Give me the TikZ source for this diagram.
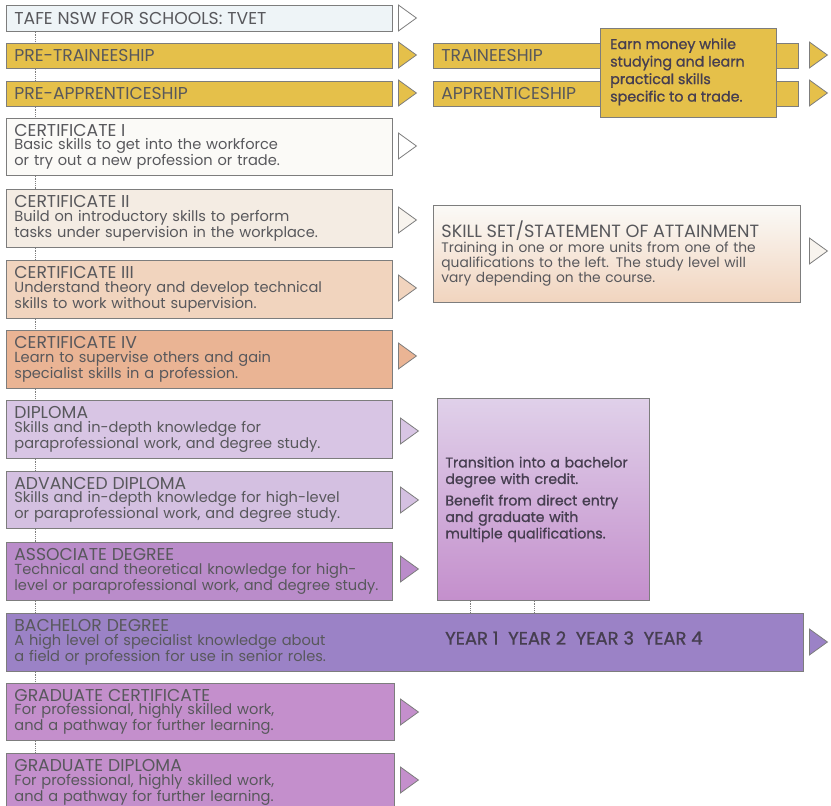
\documentclass[tikz,border=0pt]{standalone}
\usepackage{fontspec}
\setmainfont{Poppins}
\newfontfamily\medfont[FakeBold=1]{Poppins}
\usepackage{tikz}
\usetikzlibrary{positioning,shapes.geometric}

\definecolor{linegray}{RGB}{125,125,125}
\definecolor{txtgray}{RGB}{88,88,92}
\definecolor{darktxt}{RGB}{70,62,80}
\definecolor{tvetfill}{RGB}{238,244,247}
\definecolor{yel}{RGB}{229,192,74}
\definecolor{certone}{RGB}{251,250,247}
\definecolor{certtwo}{RGB}{244,236,227}
\definecolor{certthree}{RGB}{241,212,190}
\definecolor{certfour}{RGB}{234,180,148}
\definecolor{dipfill}{RGB}{216,197,228}
\definecolor{advfill}{RGB}{212,192,225}
\definecolor{assocfill}{RGB}{186,140,202}
\definecolor{bachfill}{RGB}{155,130,198}
\definecolor{gradfill}{RGB}{196,143,204}

\newcommand\titlefont{\fontsize{17.2}{13}\selectfont}

\begin{document}
\lineskiplimit=-100pt
\begin{tikzpicture}[
  x=1pt,y=-1pt,
  lvl/.style={draw=linegray,line width=0.8pt,anchor=north west,inner xsep=8pt,inner ysep=1pt,
    text width=370pt,align=left,font=\fontsize{14.6}{13.7}\selectfont,text=txtgray},
  sidebox/.style={draw=linegray,line width=0.8pt,anchor=north west,inner xsep=8pt,inner ysep=1pt,
    align=left,font=\fontsize{13.8}{12.8}\selectfont,text=txtgray},
  tip/.style={isosceles triangle,isosceles triangle stretches,draw=linegray,line width=0.8pt,
    minimum width=26pt,minimum height=18pt,inner sep=0pt,anchor=west},
  link/.style={draw=linegray,densely dotted,line width=0.8pt}]
  \clip (0,0) rectangle (831,806);
  \fill[white] (0,0) rectangle (831,806);
  % left column
  \node[lvl,fill=tvetfill,minimum height=26pt] (tvet) at (6,5) {\titlefont TAFE NSW FOR SCHOOLS: TVET};
  \node[lvl,fill=yel,minimum height=25pt] (pretr) at (6,43) {\titlefont PRE-TRAINEESHIP};
  \node[lvl,fill=yel,minimum height=25pt] (preap) at (6,81) {\titlefont PRE-APPRENTICESHIP};
  \node[lvl,fill=certone,minimum height=57pt] (certi) at (6,118) {{\titlefont CERTIFICATE I}\\Basic skills to get into the workforce\\or try out a new profession or trade.};
  \node[lvl,fill=certtwo,minimum height=58pt] (certii) at (6,189) {{\titlefont CERTIFICATE II}\\Build on introductory skills to perform\\tasks under supervision in the workplace.};
  \node[lvl,fill=certthree,minimum height=58pt] (certiii) at (6,260) {{\titlefont CERTIFICATE III}\\Understand theory and develop technical\\skills to work without supervision.};
  \node[lvl,fill=certfour,minimum height=58pt] (certiv) at (6,330) {{\titlefont CERTIFICATE IV}\\Learn to supervise others and gain\\specialist skills in a profession.};
  \node[lvl,fill=dipfill,minimum height=58pt] (dip) at (6,400) {{\titlefont DIPLOMA}\\Skills and in-depth knowledge for\\paraprofessional work, and degree study.};
  \node[lvl,fill=advfill,minimum height=57pt] (advdip) at (6,471) {{\titlefont ADVANCED DIPLOMA}\\Skills and in-depth knowledge for high-level\\or paraprofessional work, and degree study.};
  \node[lvl,fill=assocfill,minimum height=58pt] (assoc) at (6,542) {{\titlefont ASSOCIATE DEGREE}\\Technical and theoretical knowledge for high-\\level or paraprofessional work, and degree study.};
  \node[lvl,fill=bachfill,minimum height=58pt,text width=781pt] (bach) at (6,613) {{\titlefont BACHELOR DEGREE}\\A high level of specialist knowledge about\\a field or profession for use in senior roles.};
  \node[lvl,fill=gradfill,minimum height=57pt,text width=372pt] (gradcert) at (6,683) {{\titlefont GRADUATE CERTIFICATE}\\For professional, highly skilled work,\\and a pathway for further learning.};
  \node[lvl,fill=gradfill,minimum height=58pt,text width=372pt] (graddip) at (6,753) {{\titlefont GRADUATE DIPLOMA}\\For professional, highly skilled work,\\and a pathway for further learning.};
  % right column
  \node[sidebox,fill=yel,minimum height=25pt,text width=349pt] (train) at (433,43) {\titlefont TRAINEESHIP};
  \node[sidebox,fill=yel,minimum height=25pt,text width=349pt] (appr) at (433,81) {\titlefont APPRENTICESHIP};
  \node[sidebox,fill=yel,minimum height=89pt,minimum width=176pt] (earn) at (600,28) {};
  \node[anchor=north west,inner sep=0pt,align=left,text=darktxt,font=\medfont\fontsize{14.3}{17.5}\selectfont]
    (earntext) at ([xshift=10pt,yshift=-10pt]earn.north west) {Earn money while\\studying and learn\\practical skills\\specific to a trade.};
  \node[sidebox,top color=certone,bottom color=certthree,minimum height=97pt,text width=351pt] (skill) at (433,205)
    {{\fontsize{17.7}{13}\selectfont SKILL SET/STATEMENT OF ATTAINMENT}\\Training in one or more units from one of the\\qualifications to the left. The study level will\\vary depending on the course.};
  \node[sidebox,top color=dipfill!80!white,bottom color=gradfill,minimum height=202pt,text width=196pt,text=darktxt,
    font=\medfont\fontsize{14.1}{16.5}\selectfont] (trans) at (437,398) {Transition into a bachelor\\degree with credit.\\[5pt]Benefit from direct entry\\and graduate with\\multiple qualifications.};
  \node[anchor=west,font=\medfont\fontsize{18}{18}\selectfont,text=darktxt,inner sep=0pt] (years) at (445,638) {YEAR 1\ \ YEAR 2\ \ YEAR 3\ \ YEAR 4};
  % arrow tips
  \node[tip,fill=white] (tvettip) at (398,18) {};
  \node[tip,fill=yel] (pretrtip) at (398,55) {};
  \node[tip,fill=yel] (preaptip) at (398,93) {};
  \node[tip,fill=white] (certitip) at (398,146) {};
  \node[tip,fill=certtwo!60!white] (certiitip) at (398,220) {};
  \node[tip,fill=certthree] (certiiitip) at (398,288) {};
  \node[tip,fill=certfour] (certivtip) at (398,356) {};
  \node[tip,fill=dipfill] (diptip) at (400,431) {};
  \node[tip,fill=advfill] (advdiptip) at (400,500) {};
  \node[tip,fill=assocfill] (assoctip) at (400,569) {};
  \node[tip,fill=gradfill] (gradcerttip) at (400,712) {};
  \node[tip,fill=gradfill] (graddiptip) at (400,780) {};
  \node[tip,fill=yel] (traintip) at (809,55) {};
  \node[tip,fill=yel] (apprtip) at (809,93) {};
  \node[tip,fill=certtwo!60!white] (skilltip) at (809,251) {};
  \node[tip,fill=bachfill] (bachtip) at (809,642) {};
  % dotted links
  \foreach \a/\b in {tvet/pretr,pretr/preap,preap/certi,certi/certii,certii/certiii,certiii/certiv,
    certiv/dip,dip/advdip,advdip/assoc,assoc/bach,bach/gradcert,gradcert/graddip}
    \draw[link] ([xshift=29pt]\a.south west) -- ([xshift=29pt]\b.north west);
  \draw[link] ([xshift=33pt]trans.south west) -- ([xshift=33pt]trans.south west |- bach.north);
  \draw[link] ([xshift=97pt]trans.south west) -- ([xshift=97pt]trans.south west |- bach.north);
\end{tikzpicture}
\end{document}
